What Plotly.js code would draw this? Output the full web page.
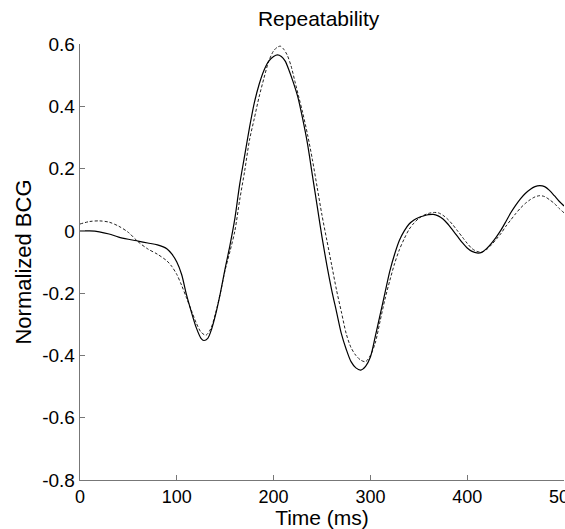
<!DOCTYPE html>
<html>
<head>
<meta charset="utf-8">
<script src="https://cdn.plot.ly/plotly-3.0.1.min.js"></script>
<style>html,body{margin:0;padding:0;background:#fff;}#chart{width:565px;height:529px;}</style>
</head>
<body>
<div id="chart"></div>
<script>
const timeSolid = [0,10,20,30,40,50,60,70,80,90,95,100,105,110,115,120,125,128,132,136,140,145,150,155,160,165,170,175,180,185,190,195,200,204,208,212,216,220,225,230,235,240,245,250,255,260,265,270,275,280,285,290,295,300,305,310,315,320,325,330,335,340,345,350,355,360,365,370,375,380,385,390,395,400,405,410,415,420,425,430,435,440,445,450,455,460,465,470,475,480,485,490,495,500];
const bcgSolid = [0,0,-0.003,-0.01,-0.02,-0.027,-0.033,-0.039,-0.045,-0.058,-0.075,-0.1,-0.14,-0.205,-0.26,-0.31,-0.345,-0.352,-0.345,-0.315,-0.27,-0.2,-0.12,-0.045,0.04,0.15,0.24,0.33,0.41,0.47,0.515,0.545,0.56,0.565,0.56,0.545,0.515,0.48,0.43,0.36,0.28,0.18,0.08,-0.02,-0.11,-0.19,-0.26,-0.33,-0.38,-0.42,-0.44,-0.447,-0.435,-0.405,-0.34,-0.27,-0.2,-0.13,-0.075,-0.03,0.0,0.022,0.035,0.043,0.048,0.052,0.053,0.048,0.038,0.022,0.002,-0.018,-0.038,-0.055,-0.066,-0.071,-0.069,-0.057,-0.04,-0.02,0.003,0.03,0.058,0.082,0.103,0.12,0.133,0.142,0.145,0.142,0.13,0.113,0.095,0.08];

const timeDashed = [0,10,20,30,40,50,60,70,80,90,95,100,105,110,115,120,125,130,135,140,145,150,155,160,165,170,175,180,185,190,195,200,204,207,210,214,218,222,226,230,235,240,245,250,255,260,265,270,275,280,285,290,295,300,305,310,315,320,325,330,335,340,345,350,355,360,365,370,375,380,385,390,395,400,405,410,415,420,425,430,435,440,445,450,455,460,465,470,475,480,485,490,495,500];
const bcgDashed = [0.022,0.03,0.032,0.028,0.015,-0.005,-0.035,-0.058,-0.075,-0.097,-0.115,-0.14,-0.175,-0.215,-0.255,-0.295,-0.325,-0.335,-0.315,-0.265,-0.2,-0.125,-0.065,0.0,0.1,0.19,0.29,0.36,0.43,0.49,0.545,0.578,0.59,0.593,0.585,0.565,0.53,0.48,0.43,0.38,0.31,0.23,0.14,0.05,-0.03,-0.11,-0.19,-0.26,-0.33,-0.375,-0.4,-0.415,-0.42,-0.4,-0.36,-0.29,-0.22,-0.16,-0.105,-0.06,-0.025,0.005,0.025,0.04,0.05,0.056,0.059,0.058,0.05,0.037,0.02,0.0,-0.02,-0.04,-0.057,-0.066,-0.068,-0.06,-0.045,-0.027,-0.008,0.015,0.035,0.055,0.073,0.088,0.1,0.109,0.113,0.11,0.1,0.088,0.072,0.058];

const xTicks = [0,100,200,300,400,500];
const yTicks = [-0.8,-0.6,-0.4,-0.2,0,0.2,0.4,0.6];
const yTickText = ['-0.8','-0.6','-0.4','-0.2','0','0.2','0.4','0.6'];

const font = "Liberation Sans, Arial, sans-serif";

const traces = [
  {x: timeDashed, y: bcgDashed, mode: 'lines', line: {color: '#222', width: 1, dash: '3px,2px', shape: 'spline', smoothing: 0.8}, hoverinfo: 'skip'},
  {x: timeSolid, y: bcgSolid, mode: 'lines', line: {color: '#000', width: 1.2, shape: 'spline', smoothing: 0.8}, hoverinfo: 'skip'}
];

const layout = {
  width: 565, height: 529,
  margin: {l: 80, r: 1, t: 44, b: 49, pad: 0},
  paper_bgcolor: '#fff', plot_bgcolor: '#fff',
  showlegend: false,
  font: {family: font, size: 19, color: '#000'},
  title: {text: 'Repeatability', font: {family: font, size: 21, color: '#000'}, xref: 'container', x: 0.564, xanchor: 'center', yref: 'container', y: 0.965, yanchor: 'middle'},
  xaxis: {
    range: [0, 500], tickvals: xTicks, ticktext: xTicks.map(String),
    ticks: 'inside', ticklen: 5, tickcolor: '#777', tickwidth: 1,
    showline: true, linecolor: '#777', linewidth: 1.3, showgrid: false, zeroline: false,
    ticklabeloverflow: 'allow',
    tickfont: {family: font, size: 18, color: '#000'},
    title: {text: 'Time (ms)', font: {family: font, size: 21, color: '#000'}, standoff: 0}
  },
  yaxis: {
    range: [-0.8, 0.6], tickvals: yTicks, ticktext: yTickText,
    ticks: 'inside', ticklen: 5, tickcolor: '#777', tickwidth: 1,
    showline: true, linecolor: '#777', linewidth: 1.3, showgrid: false, zeroline: false,
    tickfont: {family: font, size: 19, color: '#000'},
    title: {text: 'Normalized BCG', font: {family: font, size: 22, color: '#000'}, standoff: 4}
  }
};

Plotly.newPlot('chart', traces, layout, {displayModeBar: false, staticPlot: true});
</script>
</body>
</html>
